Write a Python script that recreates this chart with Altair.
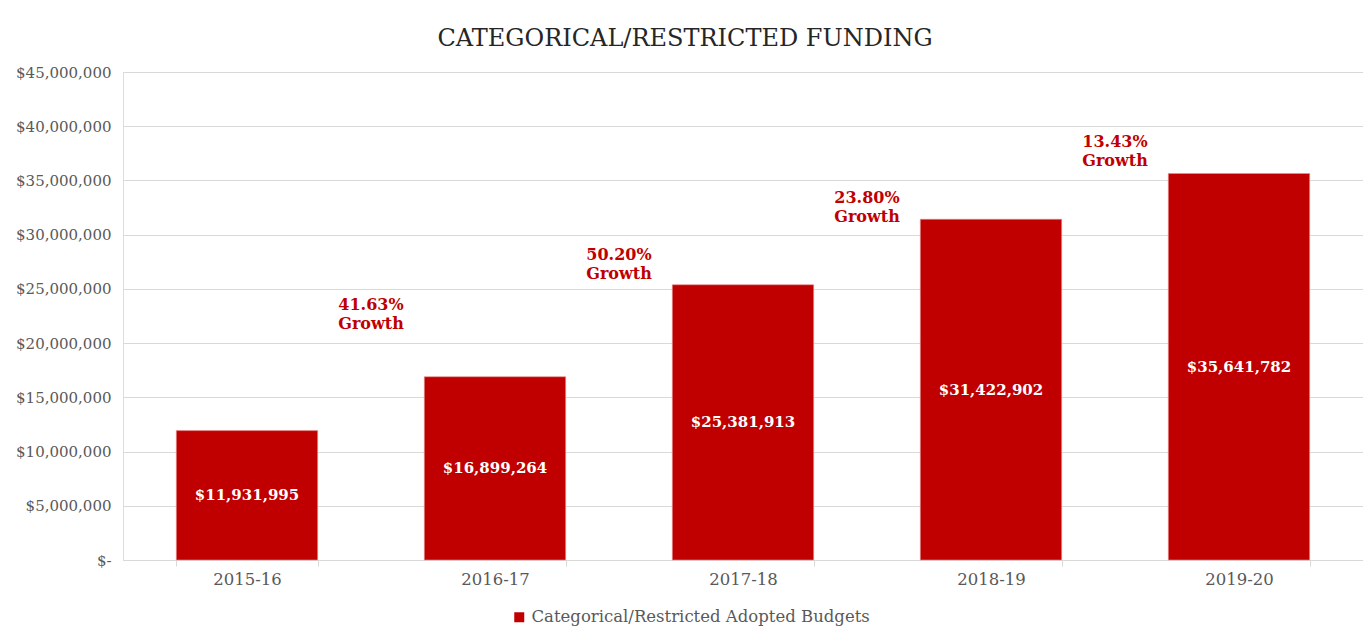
import altair as alt
import pandas as pd

years = ["2015-16", "2016-17", "2017-18", "2018-19", "2019-20"]
budgets = [11931995, 16899264, 25381913, 31422902, 35641782]
series_name = "Categorical/Restricted Adopted Budgets"

growth_years = ["2016-17", "2017-18", "2018-19", "2019-20"]
growth_pct = ["41.63%", "50.20%", "23.80%", "13.43%"]
growth_label_y = [23500000, 28100000, 33400000, 38550000]

RED = "#C00000"
GRAY = "#595959"
GRID = "#D9D9D9"
FONT = "DejaVu Serif"
AXFS = 16.5

bars_df = pd.DataFrame({"year": years, "value": budgets, "series": series_name})
growth_df = pd.DataFrame({
    "year": growth_years,
    "label": [p + "\nGrowth" for p in growth_pct],
    "ypos": growth_label_y,
})

x_enc = alt.X(
    "year:N",
    sort=years,
    title=None,
    scale=alt.Scale(paddingInner=0.43, paddingOuter=0.215),
    axis=alt.Axis(
        labelAngle=0,
        labelColor=GRAY,
        labelFont=FONT,
        labelFontSize=AXFS,
        labelPadding=5,
        domainColor=GRID,
        tickColor=GRID,
        tickSize=6,
        tickBand="extent",
        grid=False,
    ),
)

y_scale = alt.Scale(domain=[0, 45000000])

bars = alt.Chart(bars_df).mark_bar(color=RED, stroke="#E89090", strokeWidth=0.6).encode(
    x=x_enc,
    y=alt.Y(
        "value:Q",
        title=None,
        scale=y_scale,
        axis=alt.Axis(
            values=list(range(0, 45000001, 5000000)),
            labelExpr="datum.value == 0 ? '$-' : '$' + format(datum.value, ',')",
            labelColor=GRAY,
            labelFont=FONT,
            labelFontSize=15,
            labelPadding=12,
            ticks=False,
            domain=False,
            gridColor=GRID,
            gridWidth=1.2,
        ),
    ),
    color=alt.Color(
        "series:N",
        scale=alt.Scale(domain=[series_name], range=[RED]),
        legend=alt.Legend(
            title=None,
            orient="none",
            legendX=388,
            legendY=537,
            direction="horizontal",
            symbolType="square",
            symbolSize=100,
            symbolStrokeWidth=0,
            labelColor=GRAY,
            labelFont=FONT,
            labelFontSize=AXFS,
            labelOffset=4,
            labelLimit=600,
        ),
    ),
)

bar_labels = alt.Chart(bars_df).transform_calculate(
    mid="datum.value / 2"
).mark_text(
    color="white", font=FONT, fontSize=15, fontWeight="bold", baseline="middle"
).encode(
    x=alt.X("year:N", sort=years),
    y=alt.Y("mid:Q", scale=y_scale),
    text=alt.Text("value:Q", format="$,.0f"),
)

growth_labels = alt.Chart(growth_df).mark_text(
    color=RED, font=FONT, fontSize=16, fontWeight="bold", baseline="middle",
    lineBreak="\n", lineHeight=19, dx=-124,
).encode(
    x=alt.X("year:N", sort=years),
    y=alt.Y("ypos:Q", scale=y_scale),
    text="label:N",
)

chart = alt.layer(bars, bar_labels, growth_labels).properties(
    width=1240,
    height=488,
    autosize=alt.AutoSizeParams(type="none"),
    padding={"left": 115, "top": 64, "right": 0, "bottom": 81},
    title=alt.TitleParams(
        "CATEGORICAL/RESTRICTED  FUNDING",
        font=FONT,
        fontSize=24,
        fontWeight="normal",
        color="#262626",
        offset=14,
        anchor="middle",
        frame="group",
        dx=-58,
    ),
).configure_view(stroke=None).configure(background="white")

chart.save("out.html", embed_options={"renderer": "svg", "actions": False})
